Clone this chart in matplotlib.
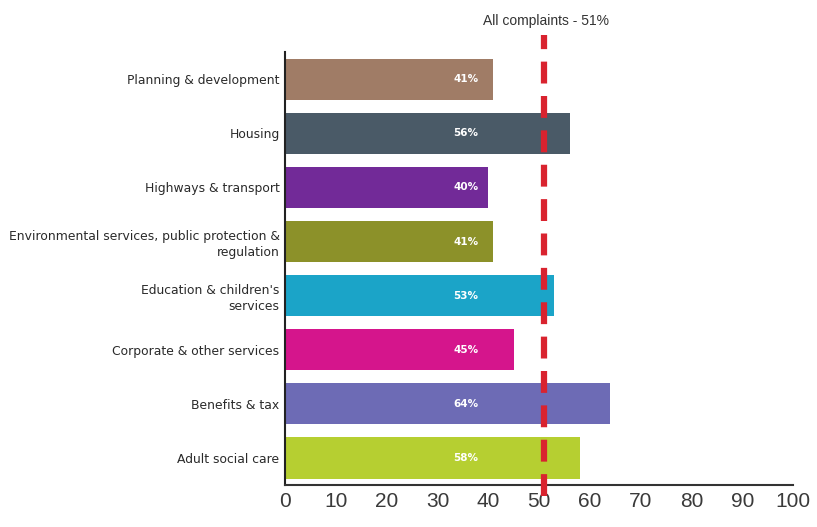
import matplotlib.pyplot as plt

categories = ['Planning & development', 'Housing', 'Highways & transport',
              'Environmental services, public protection &\nregulation',
              "Education & children's\nservices", 'Corporate & other services',
              'Benefits & tax', 'Adult social care']
values = [41, 56, 40, 41, 53, 45, 64, 58]
colors = ['#a07c66', '#4a5a67', '#722a98', '#8c9129', '#1ba4c8',
          '#d5158c', '#6d6bb5', '#b6cf31']
all_complaints = 51
xticks = [0, 10, 20, 30, 40, 50, 60, 70, 80, 90, 100]

fig = plt.figure(figsize=(8.17, 5.27), dpi=100)
ax = fig.add_axes([0.349, 0.0797, 0.6216, 0.8213])

pos = list(range(len(categories)))[::-1]
ax.barh(pos, values, height=0.76, color=colors, zorder=2)

# percentage labels sit at the same x inside every bar
for p, v in zip(pos, values):
    ax.text(35.6, p, f'{v}%', color='white', fontsize=7.5, fontweight='bold',
            ha='center', va='center', family='DejaVu Sans', zorder=3)

ax.set_yticks(pos)
ax.set_yticklabels(categories, fontsize=8.9, color='#2a2a2a',
                   family='DejaVu Sans', linespacing=1.3)
ax.tick_params(axis='y', length=0, pad=4)

ax.set_xticks(xticks)
ax.set_xticklabels([str(t) for t in xticks], fontsize=15, color='#3a3a3a',
                   family='Liberation Sans')
ax.tick_params(axis='x', length=0, pad=5)
ax.set_xticks([100], minor=True)
ax.tick_params(axis='x', which='minor', direction='in', length=6,
               width=1.2, color='#333333')

ax.set_xlim(0, 100)
ax.set_ylim(-0.5, 7.5)
for s in ['top', 'right']:
    ax.spines[s].set_visible(False)
ax.spines['left'].set_linewidth(1.5)
ax.spines['left'].set_color('#222222')
ax.spines['bottom'].set_linewidth(1.5)
ax.spines['bottom'].set_color('#333333')

line = ax.axvline(all_complaints, ymin=-0.025, ymax=1.04, color='#d9232f',
                  linewidth=4.5, clip_on=False, zorder=4)
line.set_dashes((3.5, 2))

ax.text(all_complaints + 0.3, 8.07, f'All complaints - {all_complaints}%',
        ha='center', va='center', fontsize=10, color='#333333',
        family='Liberation Sans')

fig.savefig('out.png', dpi=100)
